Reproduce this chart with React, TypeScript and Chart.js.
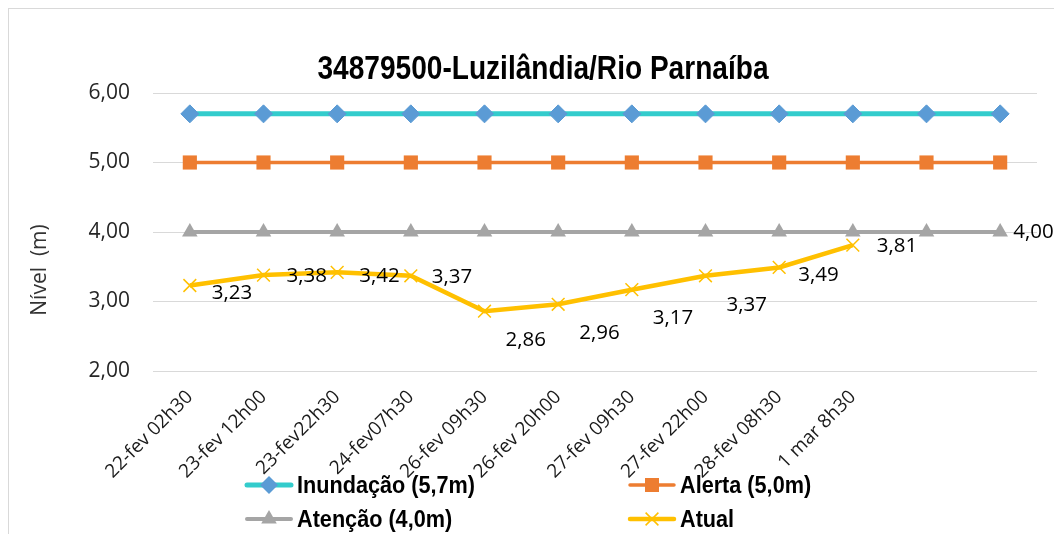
import React, { useEffect, useRef } from 'react';
import { Chart, registerables } from 'chart.js';

Chart.register(...registerables);

const chartTitle = '34879500-Luzilândia/Rio Parnaíba';
const yAxisTitle = 'Nível  (m)';
const categories = [
  '22-fev 02h30', '23-fev 12h00', '23-fev22h30', '24-fev07h30', '26-fev 09h30',
  '26-fev 20h00', '27-fev 09h30', '27-fev 22h00', '28-fev 08h30', '1 mar 8h30', '', '',
];
const inundacao = [5.7, 5.7, 5.7, 5.7, 5.7, 5.7, 5.7, 5.7, 5.7, 5.7, 5.7, 5.7];
const alerta = [5.0, 5.0, 5.0, 5.0, 5.0, 5.0, 5.0, 5.0, 5.0, 5.0, 5.0, 5.0];
const atencao = [4.0, 4.0, 4.0, 4.0, 4.0, 4.0, 4.0, 4.0, 4.0, 4.0, 4.0, 4.0];
const atual = [3.23, 3.38, 3.42, 3.37, 2.86, 2.96, 3.17, 3.37, 3.49, 3.81, null, null];
const seriesNames = ['Inundação (5,7m)', 'Alerta (5,0m)', 'Atenção (4,0m)', 'Atual'];
const yMin = 2;
const yMax = 6;
const yStep = 1;

// label placement (pixel shifts relative to each point)
const atualLabelDx = [22, 23, 22, 21, 21, 21, 21, 21, 19, 24];
const atualLabelDy = [8, 1, 4, 1, 29, 29, 28, 29, 8, 1];

const COLORS = {
  teal: '#33CCCC',
  blue: '#5B9BD5',
  orange: '#ED7D31',
  gray: '#A5A5A5',
  yellow: '#FFC000',
};

const fmt = (v: number) => v.toFixed(2).replace('.', ',');

function drawMarker(ctx: CanvasRenderingContext2D, kind: string, x: number, y: number, color: string) {
  ctx.save();
  ctx.fillStyle = color;
  ctx.strokeStyle = color;
  ctx.beginPath();
  if (kind === 'diamond') {
    const r = 9;
    ctx.moveTo(x - r, y);
    ctx.lineTo(x, y - r);
    ctx.lineTo(x + r, y);
    ctx.lineTo(x, y + r);
    ctx.closePath();
    ctx.fill();
  } else if (kind === 'square') {
    ctx.rect(x - 7, y - 7, 14, 14);
    ctx.fill();
  } else if (kind === 'triangle') {
    const r = 9;
    ctx.moveTo(x, y - r);
    ctx.lineTo(x + r * 0.866, y + r * 0.5);
    ctx.lineTo(x - r * 0.866, y + r * 0.5);
    ctx.closePath();
    ctx.fill();
  } else if (kind === 'cross') {
    const d = 6.4;
    ctx.lineWidth = 1.5;
    ctx.moveTo(x - d, y - d);
    ctx.lineTo(x + d, y + d);
    ctx.moveTo(x - d, y + d);
    ctx.lineTo(x + d, y - d);
    ctx.stroke();
  }
  ctx.restore();
}

// draws text squeezed horizontally to look like a condensed face
function drawCondensed(ctx: CanvasRenderingContext2D, text: string, x: number, y: number, squeeze: number, align: 'left' | 'center') {
  ctx.save();
  ctx.translate(x, y);
  ctx.scale(squeeze, 1);
  ctx.textAlign = align;
  ctx.fillText(text, 0, 0);
  ctx.restore();
}

const overlayPlugin = {
  id: 'overlay',
  afterDatasetsDraw(chart: any) {
    const ctx: CanvasRenderingContext2D = chart.ctx;
    ctx.save();
    ctx.font = '20.5px "Open Sans"';
    ctx.fillStyle = '#000000';
    ctx.textAlign = 'left';
    ctx.textBaseline = 'middle';
    const metaAtual = chart.getDatasetMeta(3);
    metaAtual.data.forEach((pt: any, i: number) => {
      const v = atual[i];
      if (v === null || v === undefined) return;
      ctx.fillText(fmt(v), pt.x + (atualLabelDx[i] ?? 21), pt.y + (atualLabelDy[i] ?? 0));
    });
    const metaAt = chart.getDatasetMeta(2);
    const last = metaAt.data[metaAt.data.length - 1];
    if (last) ctx.fillText(fmt(atencao[atencao.length - 1]), last.x + 13, last.y);
    ctx.restore();
  },
  afterDraw(chart: any) {
    const ctx: CanvasRenderingContext2D = chart.ctx;
    ctx.save();
    // title
    ctx.font = 'bold 33px "Liberation Sans"';
    ctx.fillStyle = '#000000';
    ctx.textBaseline = 'middle';
    const tw = ctx.measureText(chartTitle).width;
    drawCondensed(ctx, chartTitle, 534, 61, Math.min(1, 451 / tw), 'center');
    // y axis title
    ctx.save();
    ctx.translate(31, 261);
    ctx.rotate(-Math.PI / 2);
    ctx.font = '21px "Open Sans"';
    ctx.fillStyle = '#333333';
    ctx.textAlign = 'center';
    ctx.fillText(yAxisTitle, 0, 0);
    ctx.restore();
    // legend
    const items = [
      { name: seriesNames[0], line: COLORS.teal, lw: 5, marker: 'diamond', mc: COLORS.blue, x: 236, y: 476 },
      { name: seriesNames[1], line: COLORS.orange, lw: 3.5, marker: 'square', mc: COLORS.orange, x: 619, y: 476 },
      { name: seriesNames[2], line: COLORS.gray, lw: 4, marker: 'triangle', mc: COLORS.gray, x: 236, y: 510 },
      { name: seriesNames[3], line: COLORS.yellow, lw: 4.5, marker: 'cross', mc: COLORS.yellow, x: 619, y: 510 },
    ];
    ctx.font = 'bold 24px "Liberation Sans"';
    const refW = ctx.measureText(seriesNames[0]).width;
    const legSqueeze = Math.min(1, 178 / refW);
    items.forEach((it) => {
      ctx.save();
      ctx.strokeStyle = it.line;
      ctx.lineWidth = it.lw;
      ctx.lineCap = 'round';
      ctx.beginPath();
      ctx.moveTo(it.x + 2, it.y);
      ctx.lineTo(it.x + 46, it.y);
      ctx.stroke();
      ctx.restore();
      drawMarker(ctx, it.marker, it.x + 24, it.y, it.mc);
      ctx.font = 'bold 24px "Liberation Sans"';
      ctx.fillStyle = '#000000';
      ctx.textBaseline = 'middle';
      drawCondensed(ctx, it.name, it.x + 52, it.y + 1, legSqueeze, 'left');
    });
    ctx.restore();
  },
};

export default function App() {
  const canvasRef = useRef<HTMLCanvasElement | null>(null);

  useEffect(() => {
    if (!canvasRef.current) return;
    const chart = new Chart(canvasRef.current, {
      type: 'line',
      data: {
        labels: categories,
        datasets: [
          {
            label: seriesNames[0],
            data: inundacao,
            borderColor: COLORS.teal,
            borderWidth: 5,
            pointStyle: 'rectRot',
            pointRadius: 9,
            pointBackgroundColor: COLORS.blue,
            pointBorderColor: COLORS.blue,
            pointBorderWidth: 1,
            tension: 0,
          },
          {
            label: seriesNames[1],
            data: alerta,
            borderColor: COLORS.orange,
            borderWidth: 3.5,
            pointStyle: 'rect',
            pointRadius: 10,
            pointBackgroundColor: COLORS.orange,
            pointBorderColor: COLORS.orange,
            pointBorderWidth: 0,
            tension: 0,
          },
          {
            label: seriesNames[2],
            data: atencao,
            borderColor: COLORS.gray,
            borderWidth: 4,
            pointStyle: 'triangle',
            pointRadius: 9,
            pointBackgroundColor: COLORS.gray,
            pointBorderColor: COLORS.gray,
            pointBorderWidth: 0,
            tension: 0,
          },
          {
            label: seriesNames[3],
            data: atual,
            borderColor: COLORS.yellow,
            borderWidth: 4.5,
            pointStyle: 'crossRot',
            pointRadius: 9,
            pointBackgroundColor: COLORS.yellow,
            pointBorderColor: COLORS.yellow,
            pointBorderWidth: 1.5,
            tension: 0,
            spanGaps: false,
          },
        ],
      },
      options: {
        animation: false,
        responsive: false,
        layout: { padding: { left: 0, right: 42, top: 84, bottom: 48 } },
        plugins: {
          legend: { display: false },
          title: { display: false },
          tooltip: { enabled: false },
        },
        scales: {
          x: {
            offset: true,
            grid: { display: false, drawTicks: false },
            border: { display: false },
            ticks: {
              autoSkip: false,
              minRotation: 45,
              maxRotation: 45,
              padding: 15,
              color: '#1a1a1a',
              font: { family: 'Open Sans', size: 19 },
            },
            afterFit: (scale: any) => {
              scale.height = 150;
            },
          },
          y: {
            min: yMin,
            max: yMax,
            grid: { color: '#D9D9D9', lineWidth: 1, drawTicks: false },
            border: { display: false },
            ticks: {
              stepSize: yStep,
              padding: 23,
              color: '#262626',
              font: { family: 'Open Sans', size: 21 },
              callback: (v: any) => fmt(Number(v)),
            },
            afterFit: (scale: any) => {
              scale.width = 144;
            },
          },
        },
      },
      plugins: [overlayPlugin],
    });
    return () => chart.destroy();
  }, []);

  return (
    <div style={{ position: 'fixed', left: 0, top: 0, width: 1054, height: 534, overflow: 'hidden', background: '#fff' }}>
      <div style={{ position: 'absolute', left: 8, top: 8, width: 1070, height: 560, border: '1px solid #D9D9D9' }}>
        <canvas ref={canvasRef} width={1070} height={560} style={{ display: 'block' }} />
      </div>
    </div>
  );
}
